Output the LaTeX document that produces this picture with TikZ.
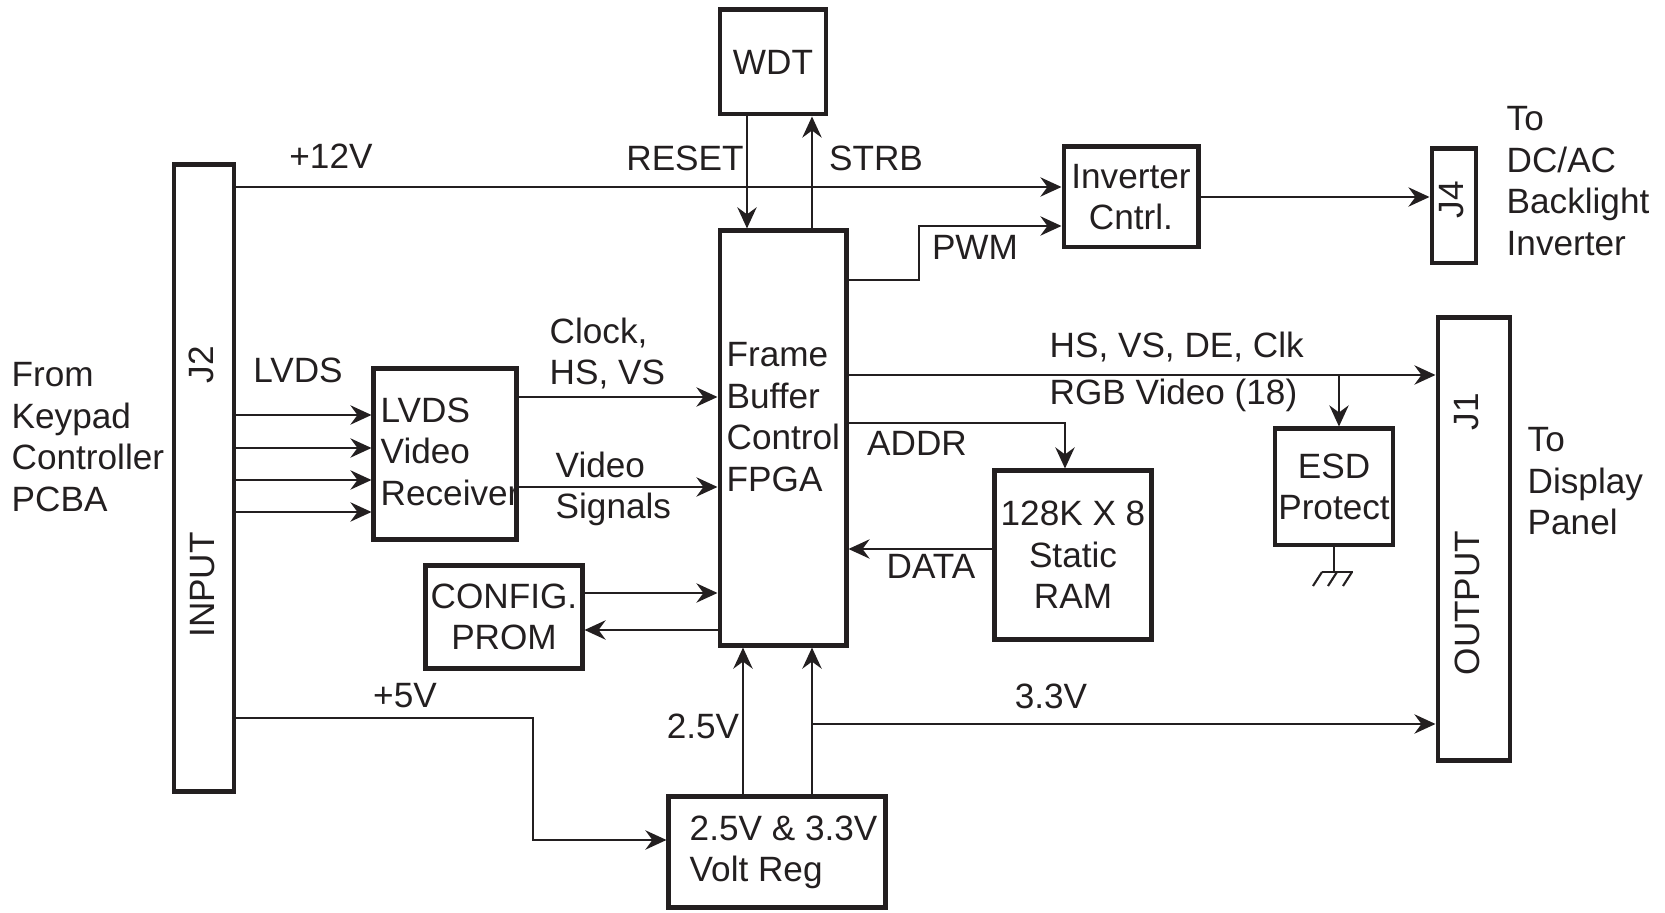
\documentclass[tikz,border=0pt]{standalone}
\usepackage{fontspec}
\setmainfont{Liberation Sans}
\usetikzlibrary{arrows.meta,positioning,calc}
\definecolor{inkBlack}{RGB}{35,31,32}

\begin{document}
\begin{tikzpicture}[x=0.01cm, y=-0.01cm,
    every node/.style={font=\fontsize{10}{11.8}\selectfont, text=inkBlack, inner sep=0pt},
    blk/.style 2 args={draw=inkBlack, line width=1.4pt, minimum width=#1, minimum height=#2, align=center},
    arr/.style={draw=inkBlack, line width=0.6pt, -{Stealth[length=6pt, width=5.5pt, inset=2pt]}},
    wire/.style={draw=inkBlack, line width=0.6pt}]
    \useasboundingbox (0,0) rectangle (1665,913);

    % blocks
    \node[blk={0.60cm}{6.27cm}] (j2) at (204,478) {};
    \node[blk={1.06cm}{1.04cm}] (wdt) at (773,62) {WDT};
    \node[blk={1.26cm}{4.14cm}] (fpga) at (783,438) {};
    \node[blk={1.34cm}{1.00cm}] (inv) at (1131,197) {Inverter\\Cntrl.};
    \node[blk={0.44cm}{1.14cm}] (j4) at (1454,206) {};
    \node[blk={0.72cm}{4.42cm}] (j1) at (1474,539) {};
    \node[blk={1.18cm}{1.16cm}] (esd) at (1334,487) {ESD\\Protect};
    \node[blk={1.42cm}{1.70cm}] (rx) at (445,454) {};
    \node[blk={1.56cm}{1.03cm}] (cfg) at (504,617) {CONFIG.\\PROM};
    \node[blk={1.56cm}{1.68cm}] (ram) at (1073,555) {128K X 8\\Static\\RAM};
    \node[blk={2.16cm}{1.11cm}] (vreg) at (777,852) {};

    % texts in and near the blocks
    \node[rotate=90] (j2lbl) at (201,365) {J2};
    \node[rotate=90] (inlbl) at (203,585) {INPUT};
    \node[rotate=90] (j1lbl) at (1467,412) {J1};
    \node[rotate=90] (outlbl) at (1467,603) {OUTPUT};
    \node[rotate=90] (j4lbl) at (1452,200) {J4};
    \node[anchor=north west, align=left] (fpgalbl) at (726,342) {Frame\\Buffer\\Control\\FPGA};
    \node[anchor=north west, align=left] (rxlbl) at (380,397) {LVDS\\Video\\Receiver};
    \node[anchor=north west, align=left] (vreglbl) at (689,815) {2.5V \& 3.3V\\Volt Reg};
    \node[anchor=north west, align=left] (src) at (11,362) {From\\Keypad\\Controller\\PCBA};
    \node[anchor=north west, align=left] (bl) at (1506,106) {To\\DC/AC\\Backlight\\Inverter};
    \node[anchor=north west, align=left] (panel) at (1527,427) {To\\Display\\Panel};

    % signal labels
    \node[anchor=base] (v12) at (331,169) {+12V};
    \node[anchor=base] (rst) at (685,171) {RESET};
    \node[anchor=base] (strb) at (876,171) {STRB};
    \node[anchor=base] (pwm) at (975,260) {PWM};
    \node[anchor=base] (lvds) at (298,383) {LVDS};
    \node[anchor=north west, align=left] (clk) at (549,317) {Clock,\\HS, VS};
    \node[anchor=north west, align=left] (vid) at (555,451) {Video\\Signals};
    \node[anchor=base west] (sync) at (1049,358) {HS, VS, DE, Clk};
    \node[anchor=base west] (rgb) at (1049,405) {RGB Video (18)};
    \node[anchor=base] (addr) at (917,456) {ADDR};
    \node[anchor=base] (data) at (931,579) {DATA};
    \node[anchor=base] (v5) at (405,708) {+5V};
    \node[anchor=base] (v25) at (703,739) {2.5V};
    \node[anchor=base] (v33) at (1051,709) {3.3V};

    % connectors
    \draw[arr] (j2.east |- 0,187) -- (inv.west |- 0,187);
    \draw[arr] (inv.east) -- (inv.east -| j4.west);
    \draw[arr] (wdt.south -| 747,0) -- (fpga.north -| 747,0);
    \draw[arr] (fpga.north -| 812,0) -- (wdt.south -| 812,0);
    \draw[arr] (fpga.east |- 0,280) -| (919,226) -- (inv.west |- 0,226);
    \draw[arr] (fpga.east |- 0,375) -- (j1.west |- 0,375);
    \coordinate (tap) at (1339,375);
    \draw[arr] (tap) -- (tap |- esd.north);
    \draw[arr] (fpga.east |- 0,423) -| (1065,0 |- ram.north);
    \draw[arr] (ram.west |- 0,549) -- (fpga.east |- 0,549);
    \foreach \y in {415,448,480,512}
        \draw[arr] (j2.east |- 0,\y) -- (rx.west |- 0,\y);
    \draw[arr] (rx.east |- 0,397) -- (fpga.west |- 0,397);
    \draw[arr] (rx.east |- 0,487) -- (fpga.west |- 0,487);
    \draw[arr] (cfg.east |- 0,593) -- (fpga.west |- 0,593);
    \draw[arr] (fpga.west |- 0,630) -- (cfg.east |- 0,630);
    \draw[arr] (j2.east |- 0,718) -| (533,840) -- (vreg.west |- 0,840);
    \draw[arr] (vreg.north -| 743,0) -- (fpga.south -| 743,0);
    \draw[arr] (vreg.north -| 812,0) -- (fpga.south -| 812,0);
    \coordinate (v33tap) at (812,724);
    \draw[arr] (v33tap) -- (j1.west |- v33tap);

    % ground under ESD
    \draw[wire] (esd.south) -- (1334,572);
    \draw[wire] (1322,572) -- (1353,572);
    \foreach \x in {1322,1337,1352}
        \draw[wire] (\x,572) -- ++(-9,14);
\end{tikzpicture}
\end{document}
